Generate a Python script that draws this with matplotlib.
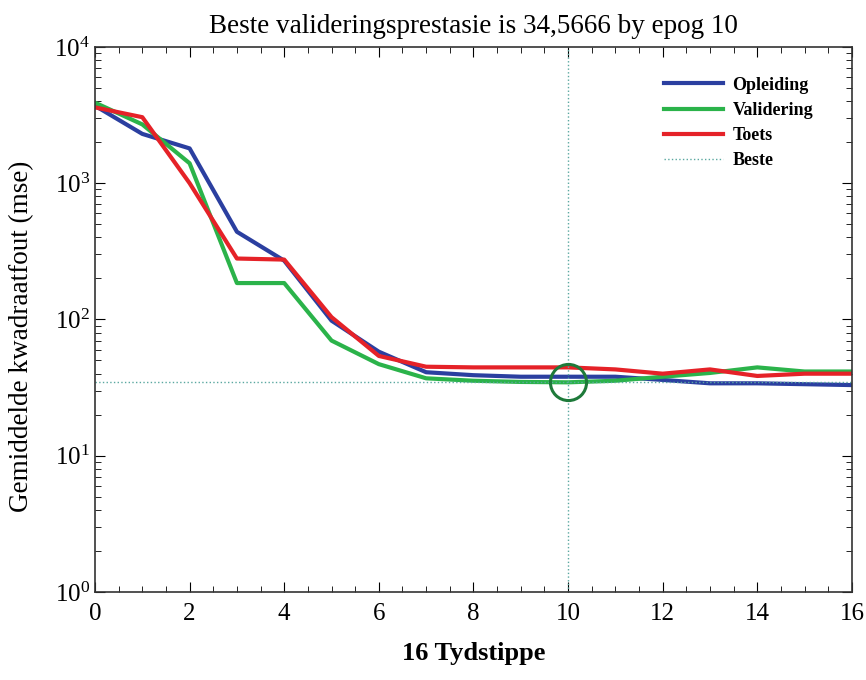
import numpy as np
import matplotlib
matplotlib.use('Agg')
import matplotlib.pyplot as plt
from matplotlib.ticker import LogLocator, MultipleLocator, NullFormatter

plt.rcParams['font.family'] = ['Liberation Serif', 'DejaVu Serif']
plt.rcParams['mathtext.fontset'] = 'stix'

epochs = list(range(17))
opleiding = [3700, 2300, 1800, 440, 270, 98, 58, 41, 39, 38, 38, 38, 36, 34, 34, 33.5, 33]
validering = [3900, 2700, 1400, 185, 185, 70, 47, 37, 35.5, 34.8, 34.57, 35.5, 38, 40.5, 44.5, 41.5, 41.5]
toets = [3600, 3050, 1000, 280, 275, 104, 54, 45, 44.5, 44.5, 44.5, 43, 40, 43, 38.5, 40, 40]
best_epoch = 10
best_value = 34.5666

title = 'Beste valideringsprestasie is 34,5666 by epog 10'
xlabel = '16 Tydstippe'
ylabel = 'Gemiddelde kwadraatfout (mse)'

fig = plt.figure(figsize=(8.66, 6.8), dpi=100)
ax = fig.add_axes([0.1097, 0.1294, 0.874, 0.8016])

ax.plot(epochs, opleiding, color='#2B3FA0', lw=3, label='Opleiding')
ax.plot(epochs, validering, color='#2BB34A', lw=3, label='Validering')
ax.plot(epochs, toets, color='#E52228', lw=3, label='Toets')
ax.axhline(best_value, color='#5AA8A0', lw=1, ls=':', label='Beste')
ax.axvline(best_epoch, color='#5AA8A0', lw=1, ls=':')
ax.plot([best_epoch], [best_value], marker='o', ms=26, mfc='none',
        mec='#1E7A3A', mew=2.2)

ax.set_yscale('log')
ax.set_xlim(0, 16)
ax.set_ylim(1, 1e4)
ax.xaxis.set_major_locator(MultipleLocator(2))
ax.xaxis.set_minor_locator(MultipleLocator(0.5))
ax.yaxis.set_major_locator(LogLocator(base=10, numticks=10))
ax.yaxis.set_minor_locator(LogLocator(base=10, subs=np.arange(2, 10), numticks=10))
ax.yaxis.set_minor_formatter(NullFormatter())
ax.tick_params(which='both', direction='in', top=True, right=True, labelsize=18)
ax.tick_params(which='major', length=7)
ax.tick_params(which='minor', length=4)
ax.tick_params(axis='x', pad=8)
for s in ax.spines.values():
    s.set_linewidth(1.2)
    s.set_color('#333333')

ax.set_title(title, fontsize=19.5, pad=10)
ax.set_xlabel(xlabel, fontsize=19, fontweight='bold', labelpad=12)
ax.set_ylabel(ylabel, fontsize=19.5)
ax.yaxis.set_label_coords(-0.08, 0.47)

leg = ax.legend(loc='upper right', bbox_to_anchor=(0.97, 0.975), frameon=False,
                prop={'weight': 'bold', 'size': 13}, handlelength=3.3,
                handletextpad=0.5, labelspacing=0.45)

fig.savefig('out.png', dpi=100)
